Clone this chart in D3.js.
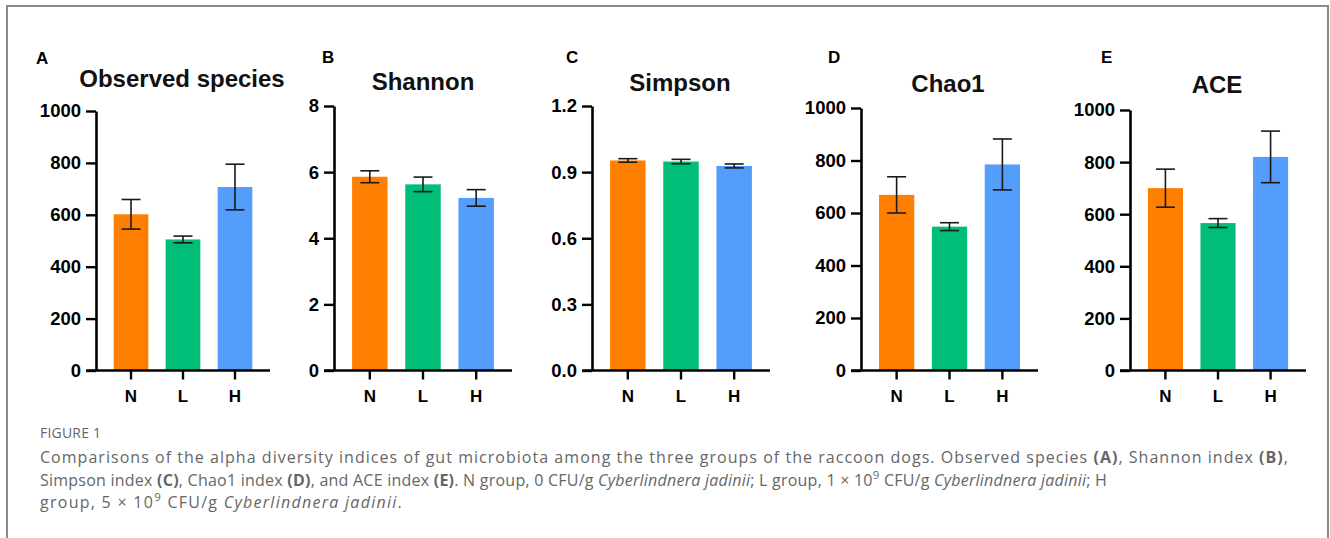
<!DOCTYPE html>
<html>
<head>
<meta charset="utf-8">
<script src="https://cdn.jsdelivr.net/npm/d3@7"></script>
<style>
  html, body { margin: 0; padding: 0; background: #fff; }
  svg { display: block; }
</style>
</head>
<body>
<svg id="chart" width="1330" height="538"></svg>
<script>
// ---- data ----
const groups = ["N", "L", "H"];
const panelLetters = ["A", "B", "C", "D", "E"];
const panelTitles = ["Observed species", "Shannon", "Simpson", "Chao1", "ACE"];
const observedMean = [602, 505, 707];
const observedErr  = [57, 13, 88];
const shannonMean  = [5.86, 5.63, 5.22];
const shannonErr   = [0.18, 0.22, 0.25];
const simpsonMean  = [0.953, 0.948, 0.928];
const simpsonErr   = [0.008, 0.010, 0.009];
const chao1Mean    = [669, 548, 785];
const chao1Err     = [69, 15, 97];
const aceMean      = [700, 566, 820];
const aceErr       = [73, 17, 99];
const ticksCount   = [0, 200, 400, 600, 800, 1000];
const ticksShannon = [0, 2, 4, 6, 8];
const ticksSimpson = [0.0, 0.3, 0.6, 0.9, 1.2];
const colors = ["#FF7F00", "#00BE78", "#559DFA"];

const panelsData = [
  { mean: observedMean, err: observedErr, ticks: ticksCount, max: 1000, fmt: d3.format("d") },
  { mean: shannonMean,  err: shannonErr,  ticks: ticksShannon, max: 8, fmt: d3.format("d") },
  { mean: simpsonMean,  err: simpsonErr,  ticks: ticksSimpson, max: 1.2, fmt: d3.format(".1f") },
  { mean: chao1Mean,    err: chao1Err,    ticks: ticksCount, max: 1000, fmt: d3.format("d") },
  { mean: aceMean,      err: aceErr,      ticks: ticksCount, max: 1000, fmt: d3.format("d") }
];

// ---- layout (positions only) ----
const layout = [
  { x0: 96,  x1: 270,  top: 111, titleX: 182, titleY: 87, labelX: 36,  labelY: 64 },
  { x0: 334, x1: 512,  top: 106, titleX: 423, titleY: 90, labelX: 322, labelY: 63 },
  { x0: 592, x1: 770,  top: 106, titleX: 680, titleY: 91, labelX: 566, labelY: 63 },
  { x0: 861, x1: 1038, top: 108, titleX: 948, titleY: 92, labelX: 828, labelY: 63 },
  { x0: 1130, x1: 1306, top: 110, titleX: 1217, titleY: 93, labelX: 1101, labelY: 63 }
];
const baseY = 370.5;

const svg = d3.select("#chart");

// frame
svg.append("rect")
  .attr("x", 7).attr("y", 6).attr("width", 1321).attr("height", 560)
  .attr("fill", "none").attr("stroke", "#8a8a8a").attr("stroke-width", 2);

const chartFont = "'Liberation Sans', Arial, Helvetica, sans-serif";

panelsData.forEach((p, i) => {
  const L = layout[i];
  const g = svg.append("g");
  const x = d3.scaleBand().domain(groups).range([L.x0, L.x1])
    .paddingInner(0.333).paddingOuter(0.34);
  const y = d3.scaleLinear().domain([0, p.max]).range([baseY, L.top]);

  // bars
  g.selectAll("rect.bar").data(groups).join("rect")
    .attr("class", "bar")
    .attr("x", d => x(d))
    .attr("width", x.bandwidth())
    .attr("y", (d, j) => y(p.mean[j]))
    .attr("height", (d, j) => baseY - y(p.mean[j]))
    .attr("fill", (d, j) => colors[j]);

  // error bars
  const capW = 19;
  groups.forEach((d, j) => {
    const cx = x(d) + x.bandwidth() / 2;
    const hi = y(p.mean[j] + p.err[j]);
    const lo = y(p.mean[j] - p.err[j]);
    const eg = g.append("g").attr("stroke", "#1a1a1a").attr("stroke-width", 1.6).attr("fill", "none");
    eg.append("line").attr("x1", cx).attr("x2", cx).attr("y1", hi).attr("y2", lo);
    eg.append("line").attr("x1", cx - capW / 2).attr("x2", cx + capW / 2).attr("y1", hi).attr("y2", hi);
    eg.append("line").attr("x1", cx - capW / 2).attr("x2", cx + capW / 2).attr("y1", lo).attr("y2", lo);
  });

  // y axis
  const yAxis = d3.axisLeft(y).tickValues(p.ticks).tickFormat(p.fmt)
    .tickSize(10).tickSizeOuter(0).tickPadding(5);
  const ya = g.append("g").attr("transform", `translate(${L.x0},0)`).call(yAxis);
  ya.select(".domain").attr("stroke", "#000").attr("stroke-width", 2.6);
  ya.selectAll(".tick line").attr("stroke", "#000").attr("stroke-width", 2.4);
  ya.selectAll(".tick text").attr("fill", "#000")
    .style("font-family", chartFont).style("font-weight", "bold").style("font-size", "18.5px");

  // x axis
  const xAxis = d3.axisBottom(x).tickSize(9).tickSizeOuter(0).tickPadding(10);
  const xa = g.append("g").attr("transform", `translate(0,${baseY})`).call(xAxis);
  xa.select(".domain").remove();
  xa.append("line").attr("x1", L.x0 - 10).attr("x2", L.x1).attr("y1", 0).attr("y2", 0)
    .attr("stroke", "#000").attr("stroke-width", 2.6);
  xa.selectAll(".tick line").attr("stroke", "#000").attr("stroke-width", 2.4);
  xa.selectAll(".tick text").attr("fill", "#000")
    .style("font-family", chartFont).style("font-weight", "bold").style("font-size", "17px");

  // title
  svg.append("text").attr("x", L.titleX).attr("y", L.titleY)
    .attr("text-anchor", "middle")
    .style("font-family", chartFont).style("font-weight", "bold").style("font-size", "24px")
    .attr("fill", "#111").text(panelTitles[i]);
  // panel letter
  svg.append("text").attr("x", L.labelX).attr("y", L.labelY)
    .style("font-family", chartFont).style("font-weight", "bold").style("font-size", "17px")
    .attr("fill", "#000").text(panelLetters[i]);
});

// ---- caption ----
const capFont = "'Open Sans', 'Noto Sans', sans-serif";
svg.append("text").attr("x", 40).attr("y", 438)
  .style("font-family", capFont).style("font-size", "14px").attr("fill", "#666")
  .attr("letter-spacing", "0.2").text("FIGURE 1");

const captionLines = [
  [["Comparisons of the alpha diversity indices of gut microbiota among the three groups of the raccoon dogs. Observed species ", ""],
   ["(A)", "b"], [", Shannon index ", ""], ["(B)", "b"], [",", ""]],
  [["Simpson index ", ""], ["(C)", "b"], [", Chao1 index ", ""], ["(D)", "b"], [", and ACE index ", ""], ["(E)", "b"],
   [". N group, 0 CFU/g ", ""], ["Cyberlindnera jadinii", "i"], ["; L group, 1 \u00d7 10", ""], ["9", "sup"],
   [" CFU/g ", ""], ["Cyberlindnera jadinii", "i"], ["; H", ""]],
  [["group, 5 \u00d7 10", ""], ["9", "sup"], [" CFU/g ", ""], ["Cyberlindnera jadinii", "i"], [".", ""]]
];
const lineY = [463, 485.5, 508];
const lineWidth = [1249, 1067, 363];
captionLines.forEach((segs, li) => {
  const t = svg.append("text").attr("x", 40).attr("y", lineY[li])
    .style("font-family", capFont).style("font-size", "16px")
    .attr("fill", "#666");
  let prevSup = false;
  segs.forEach(([txt, st]) => {
    const ts = t.append("tspan").text(txt);
    if (st === "b") ts.style("font-weight", "bold");
    if (st === "i") ts.style("font-style", "italic");
    if (st === "sup") { ts.attr("dy", -7).style("font-size", "11.5px"); prevSup = true; }
    else if (prevSup) { ts.attr("dy", 7); prevSup = false; }
  });
  // fit line to the width it spans in the figure
  const natural = t.node().getComputedTextLength();
  const nChars = segs.reduce((s, d) => s + d[0].length, 0);
  const ls = (lineWidth[li] - natural) / nChars;
  t.attr("letter-spacing", ls.toFixed(3));
});
</script>
</body>
</html>
